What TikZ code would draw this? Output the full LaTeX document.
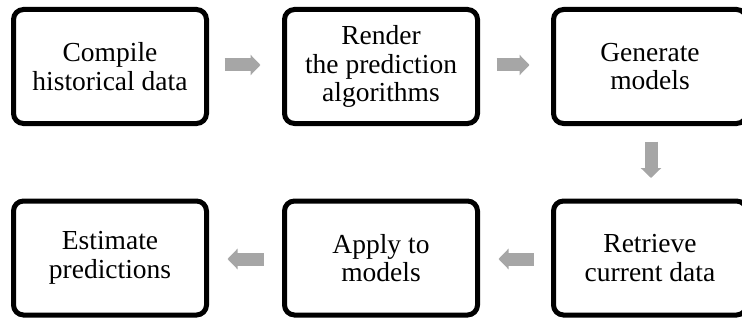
\documentclass[tikz,border=0pt]{standalone}
\usepackage{fontspec}
\setmainfont{Liberation Serif}
\usetikzlibrary{arrows.meta,calc}
\definecolor{arrgray}{HTML}{A6A6A6}
\tikzset{
  stepbox/.style={draw=black, line width=5pt, rounded corners=10pt,
    minimum width=193pt, minimum height=114pt, inner sep=0pt,
    align=center, font=\fontsize{27.5}{28.5}\selectfont},
  blockarrow/.style={draw=arrgray, line width=13pt,
    -{Triangle[width=20pt,length=10pt]}, shorten <=0pt}
}
\begin{document}
\begin{tikzpicture}[x=1pt,y=1pt]
\useasboundingbox (0,0) rectangle (742,322);
\node[stepbox] (a) at (110,255.5) {Compile\\historical data};
\node[stepbox] (b) at (381,255.5) {Render\\the prediction\\algorithms};
\node[stepbox] (c) at (650,255.5) {Generate\\models};
\node[stepbox] (f) at (650,64) {Retrieve\\current data};
\node[stepbox] (e) at (381,64) {Apply to\\models};
\node[stepbox] (d) at (110,64) {Estimate\\predictions};
\draw[blockarrow] ($(a.east)+(15.5,1.5)$) -- ($(b.west)+(-21.5,1.5)$);
\draw[blockarrow] ($(b.east)+(16.5,1.5)$) -- ($(c.west)+(-21.5,1.5)$);
\draw[blockarrow] ($(c.south)+(1,-15.5)$) -- ($(f.north)+(1,20.5)$);
\draw[blockarrow] ($(f.west)+(-17.5,-1)$) -- ($(e.east)+(18.5,-1)$);
\draw[blockarrow] ($(e.west)+(-18.5,-1)$) -- ($(d.east)+(18.5,-1)$);
\end{tikzpicture}
\end{document}
